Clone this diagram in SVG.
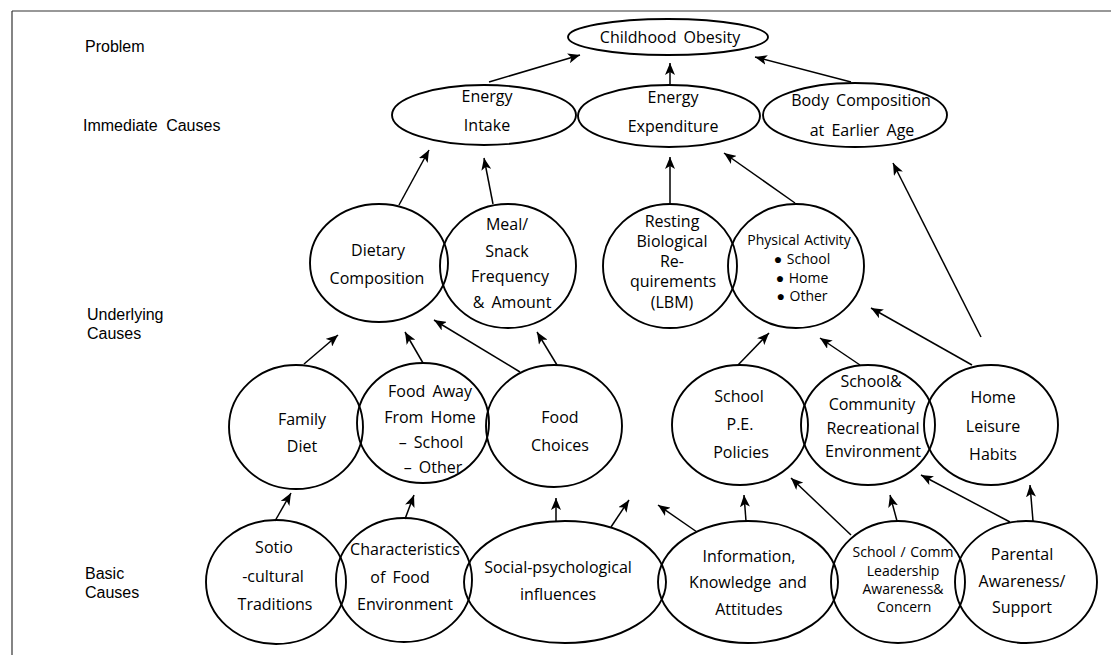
<svg xmlns="http://www.w3.org/2000/svg" width="1111" height="655" viewBox="0 0 1111 655">
<defs>
<marker id="ah" markerWidth="13" markerHeight="10" refX="12" refY="5" orient="auto" markerUnits="userSpaceOnUse">
<path d="M0,0 L12,5 L0,10 L3,5 z" fill="#000"/>
</marker>
<style>
.n{fill:none;stroke:#000;stroke-width:1.9}
.t{font-family:"Open Sans","Noto Sans",sans-serif;font-size:16px;fill:#000;text-anchor:middle;word-spacing:3px}
.s{font-size:14px;word-spacing:1px}
.lab{font-family:"Liberation Sans",Arial,sans-serif;font-size:16px;fill:#000;word-spacing:4px}
.c{fill:none;stroke:#000;stroke-width:1.5;marker-end:url(#ah)}
</style>
</defs>
<rect width="1111" height="655" fill="#fff"/>
<g id="frame" stroke="#333" stroke-width="1.2">
<line x1="12" y1="11" x2="1111" y2="11"/>
<line x1="12" y1="11" x2="12" y2="655"/>
</g>
<g id="levels">
<text class="lab" x="85" y="52">Problem</text>
<text class="lab" x="83" y="131">Immediate Causes</text>
<text class="lab" x="87" y="320">Underlying</text>
<text class="lab" x="87" y="339">Causes</text>
<text class="lab" x="85" y="579">Basic</text>
<text class="lab" x="85" y="598">Causes</text>
</g>
<g id="connectors">
<line class="c" x1="489" y1="82" x2="580" y2="55"/>
<line class="c" x1="670" y1="84" x2="670" y2="63"/>
<line class="c" x1="851" y1="82" x2="755" y2="57"/>
<line class="c" x1="399" y1="205" x2="429" y2="150"/>
<line class="c" x1="493" y1="204" x2="484" y2="158"/>
<line class="c" x1="670" y1="205" x2="670" y2="157"/>
<line class="c" x1="795" y1="203" x2="724" y2="153"/>
<line class="c" x1="981" y1="337" x2="893" y2="163"/>
<line class="c" x1="304" y1="364" x2="338" y2="335"/>
<line class="c" x1="423" y1="363" x2="405" y2="332"/>
<line class="c" x1="520" y1="372" x2="434" y2="320"/>
<line class="c" x1="557" y1="365" x2="537" y2="332"/>
<line class="c" x1="738" y1="365" x2="769" y2="333"/>
<line class="c" x1="860" y1="365" x2="820" y2="338"/>
<line class="c" x1="972" y1="365" x2="871" y2="308"/>
<line class="c" x1="275" y1="521" x2="291" y2="493"/>
<line class="c" x1="405" y1="519" x2="414" y2="495"/>
<line class="c" x1="556" y1="522" x2="556" y2="498"/>
<line class="c" x1="611" y1="527" x2="629" y2="500"/>
<line class="c" x1="697" y1="532" x2="658" y2="505"/>
<line class="c" x1="746" y1="521" x2="744" y2="495"/>
<line class="c" x1="851" y1="535" x2="791" y2="478"/>
<line class="c" x1="897" y1="521" x2="890" y2="495"/>
<line class="c" x1="1010" y1="522" x2="921" y2="475"/>
<line class="c" x1="1033" y1="521" x2="1030" y2="485"/>
</g>
<g id="childhood-obesity"><ellipse class="n" cx="668" cy="37" rx="100" ry="18"/><text class="t" x="670" y="43">Childhood Obesity</text></g>
<g id="energy-intake"><ellipse class="n" cx="484" cy="115" rx="92" ry="30"/><text class="t" x="487" y="102">Energy</text><text class="t" x="487" y="131">Intake</text></g>
<g id="energy-expenditure"><ellipse class="n" cx="669" cy="116" rx="91" ry="31"/><text class="t" x="673" y="103">Energy</text><text class="t" x="673" y="132">Expenditure</text></g>
<g id="body-composition"><ellipse class="n" cx="855" cy="115" rx="92" ry="32"/><text class="t" x="861" y="106">Body Composition</text><text class="t" x="862" y="136">at Earlier Age</text></g>
<g id="dietary-composition"><ellipse class="n" cx="379" cy="263" rx="69" ry="59"/><text class="t" x="378" y="256">Dietary</text><text class="t" x="377" y="284">Composition</text></g>
<g id="meal-snack"><ellipse class="n" cx="508" cy="266" rx="68" ry="62"/><text class="t" x="507" y="230">Meal/</text><text class="t" x="507" y="257">Snack</text><text class="t" x="510" y="282">Frequency</text><text class="t" x="512" y="308">&amp; Amount</text></g>
<g id="resting-biological"><ellipse class="n" cx="670" cy="266" rx="67" ry="62"/><text class="t" x="672" y="227">Resting</text><text class="t" x="672" y="247">Biological</text><text class="t" x="672" y="267">Re-</text><text class="t" x="673" y="287">quirements</text><text class="t" x="672" y="308">(LBM)</text></g>
<g id="physical-activity"><ellipse class="n" cx="796" cy="266" rx="68" ry="62"/><text class="t s" x="799" y="245">Physical Activity</text><text class="t s" x="802" y="264">● School</text><text class="t s" x="802" y="283">● Home</text><text class="t s" x="802" y="301">● Other</text></g>
<g id="family-diet"><ellipse class="n" cx="296" cy="427" rx="67" ry="62"/><text class="t" x="302" y="425">Family</text><text class="t" x="302" y="452">Diet</text></g>
<g id="food-away"><ellipse class="n" cx="423" cy="423" rx="66" ry="60"/><text class="t" x="430" y="397">Food Away</text><text class="t" x="430" y="423">From Home</text><text class="t" x="431" y="448">– School</text><text class="t" x="433" y="473">– Other</text></g>
<g id="food-choices"><ellipse class="n" cx="554" cy="426" rx="68" ry="61"/><text class="t" x="560" y="423">Food</text><text class="t" x="560" y="451">Choices</text></g>
<g id="school-pe"><ellipse class="n" cx="740" cy="425" rx="68" ry="60"/><text class="t" x="739" y="402">School</text><text class="t" x="740" y="430">P.E.</text><text class="t" x="741" y="458">Policies</text></g>
<g id="school-community"><ellipse class="n" cx="868" cy="425" rx="67" ry="60"/><text class="t" x="871" y="387">School&amp;</text><text class="t" x="872" y="410">Community</text><text class="t" x="873" y="434">Recreational</text><text class="t" x="873" y="457">Environment</text></g>
<g id="home-leisure"><ellipse class="n" cx="991" cy="425" rx="67" ry="60"/><text class="t" x="993" y="403">Home</text><text class="t" x="993" y="432">Leisure</text><text class="t" x="993" y="460">Habits</text></g>
<g id="socio-cultural"><ellipse class="n" cx="276" cy="582" rx="70" ry="62"/><text class="t" x="274" y="553">Sotio</text><text class="t" x="273" y="582">-cultural</text><text class="t" x="275" y="610">Traditions</text></g>
<g id="food-environment"><ellipse class="n" cx="404" cy="580" rx="68" ry="62"/><text class="t" x="405" y="555">Characteristics</text><text class="t" x="400" y="583">of Food</text><text class="t" x="405" y="610">Environment</text></g>
<g id="social-psychological"><ellipse class="n" cx="565" cy="582" rx="101" ry="61"/><text class="t" x="558" y="573">Social-psychological</text><text class="t" x="558" y="600">influences</text></g>
<g id="information"><ellipse class="n" cx="748" cy="582" rx="90" ry="61"/><text class="t" x="749" y="562">Information,</text><text class="t" x="748" y="588">Knowledge and</text><text class="t" x="749" y="615">Attitudes</text></g>
<g id="leadership"><ellipse class="n" cx="898" cy="582" rx="67" ry="61"/><text class="t s" x="903" y="557">School / Comm</text><text class="t s" x="903" y="576">Leadership</text><text class="t s" x="903" y="594">Awareness&amp;</text><text class="t s" x="904" y="612">Concern</text></g>
<g id="parental"><ellipse class="n" cx="1026" cy="582" rx="71" ry="61"/><text class="t" x="1022" y="560">Parental</text><text class="t" x="1022" y="587">Awareness/</text><text class="t" x="1022" y="613">Support</text></g>
</svg>
